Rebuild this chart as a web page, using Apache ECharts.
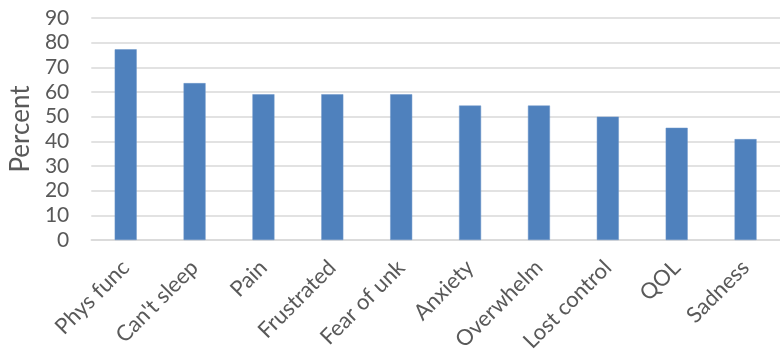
<!DOCTYPE html>
<html>
<head>
<meta charset="utf-8">
<script src="https://cdn.jsdelivr.net/npm/echarts@6/dist/echarts.min.js"></script>
<style>
  html, body { margin: 0; padding: 0; background: #fff; }
  #main { width: 780px; height: 355px; }
</style>
</head>
<body>
<div id="main"></div>
<script>
const categories = ['Phys func', "Can't sleep", 'Pain', 'Frustrated', 'Fear of unk',
  'Anxiety', 'Overwhelm', 'Lost control', 'QOL', 'Sadness'];
const percentValues = [77.3, 63.6, 59.1, 59.1, 59.1, 54.5, 54.5, 50.0, 45.5, 40.9];
const yTicks = { min: 0, max: 90, interval: 10 };

const chart = echarts.init(document.getElementById('main'));
const font = 'Lato, "Open Sans", sans-serif';

chart.setOption({
  animation: false,
  grid: { left: 91, top: 18, width: 692, height: 222, containLabel: false },
  xAxis: {
    type: 'category',
    data: categories,
    axisLine: { lineStyle: { color: '#d9d9d9', width: 1.5 } },
    axisTick: { show: false },
    axisLabel: {
      rotate: 45,
      margin: 24,
      color: '#595959',
      fontSize: 22,
      fontFamily: font,
      interval: 0
    }
  },
  yAxis: {
    type: 'value',
    min: yTicks.min,
    max: yTicks.max,
    interval: yTicks.interval,
    name: 'Percent',
    nameLocation: 'middle',
    nameGap: 56,
    nameTextStyle: { color: '#595959', fontSize: 26, fontFamily: font },
    axisLine: { show: false },
    axisTick: { show: false },
    axisLabel: { color: '#595959', fontSize: 21, fontFamily: font, margin: 22 },
    splitLine: { lineStyle: { color: '#d9d9d9', width: 1.5 } }
  },
  series: [{
    type: 'bar',
    data: percentValues,
    barWidth: 22,
    itemStyle: { color: '#4f81bd', borderColor: '#6a95c9', borderWidth: 0.5 }
  }]
});
</script>
</body>
</html>
